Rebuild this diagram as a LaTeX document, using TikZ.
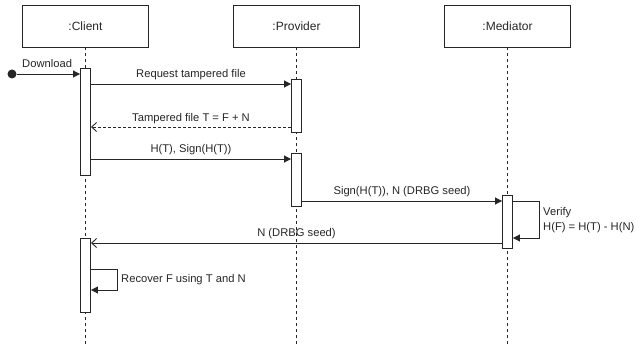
\documentclass[tikz,border=0pt]{standalone}
\usepackage{fontspec}
\setmainfont{Liberation Sans}
\usetikzlibrary{arrows.meta}

\begin{document}
\begin{tikzpicture}[x=1pt, y=-1pt, color=black!85,
    obj/.style={draw, line width=0.9pt, minimum width=126pt, minimum height=42pt, font=\fontsize{12}{14}\selectfont},
    act/.style={draw, line width=0.9pt, fill=white, minimum width=10pt, inner sep=0pt},
    life/.style={line width=0.9pt, dash pattern=on 3pt off 3pt},
    msg/.style={line width=0.9pt, -{Triangle[length=7pt,width=7pt]}},
    reply/.style={line width=0.9pt, -{Straight Barb[length=5pt,width=9pt]}},
    lbl/.style={font=\fontsize{11.2}{15}\selectfont, inner sep=0pt}]
      \useasboundingbox (0,0) rectangle (637,347);
      \foreach \n/\x/\t in {client/85.5/:Client, provider/296.5/:Provider, mediator/507.5/:Mediator} {
        \node[obj] (\n) at (\x,26) {\t};
        \coordinate (\n-end) at (\x,347);
        \draw[life] (\n.south) -- (\n-end);
      }
      \node[act, minimum height=107pt] (ca1) at (85.5,121.5) {};
      \node[act, minimum height=53pt] (pa1) at (296.5,105.5) {};
      \node[act, minimum height=53pt] (pa2) at (296.5,179.5) {};
      \node[act, minimum height=53pt] (ma1) at (507.5,221.5) {};
      \node[act, minimum height=74pt] (ca2) at (85.5,275) {};
      \node[circle, fill, inner sep=0pt, minimum size=9pt] (start) at (12,74) {};
      \draw[msg] (start) -- (ca1.west |- start);
      \node[lbl, anchor=base west] (dl) at (22,68) {Download};
      \draw[msg] (ca1.east |- 0,84) -- node[lbl, anchor=base, yshift=6pt] (m1) {Request tampered file} (pa1.west |- 0,84);
      \draw[reply, dash pattern=on 3pt off 2pt] (pa1.west |- 0,127) -- node[lbl, anchor=base, yshift=5pt] (m2) {Tampered file T = F + N} (ca1.east |- 0,127);
      \draw[msg] (ca1.east |- 0,159) -- node[lbl, anchor=base, yshift=6pt] (m3) {H(T), Sign(H(T))} (pa2.west |- 0,159);
      \draw[msg] (pa2.east |- 0,201) -- node[lbl, anchor=base, yshift=6pt] (m4) {Sign(H(T)), N (DRBG seed)} (ma1.west |- 0,201);
      \draw[msg] (ma1.east |- 0,201) -| (539,238) -- (ma1.east |- 0,238);
      \node[lbl, anchor=west, align=left] (verify) at (543,220) {Verify\\H(F) = H(T) - H(N)};
      \draw[reply] (ma1.west |- 0,243) -- node[lbl, anchor=base, yshift=6pt] (m5) {N (DRBG seed)} (ca2.east |- 0,243);
      \draw[msg] (ca2.east |- 0,269) -| (117,290) -- (ca2.east |- 0,290);
      \node[lbl, anchor=west] (recover) at (121,280) {Recover F using T and N};
    \end{tikzpicture}
\end{document}
